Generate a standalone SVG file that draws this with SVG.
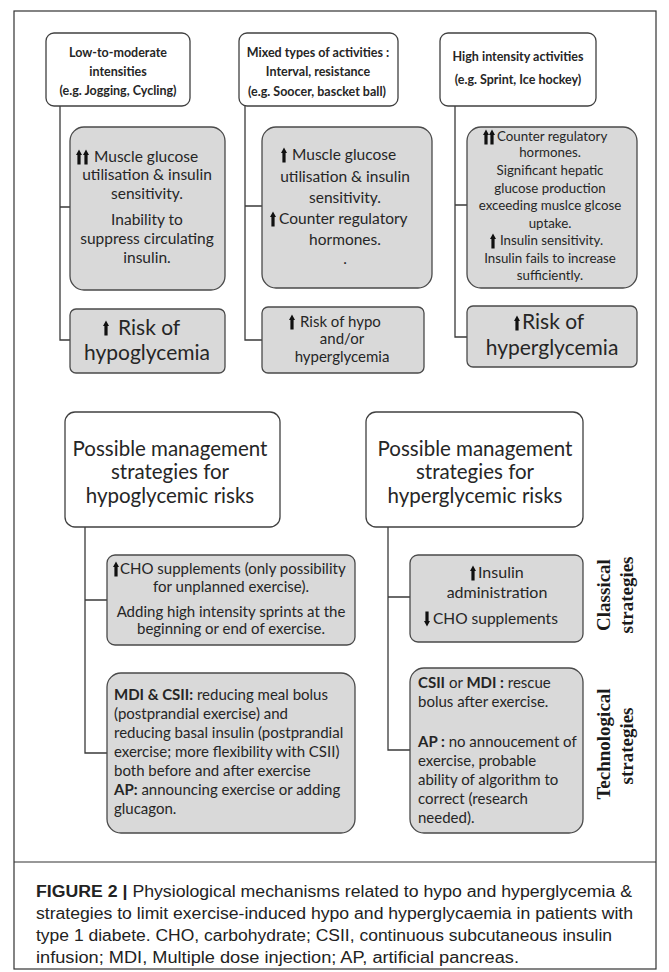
<svg xmlns="http://www.w3.org/2000/svg" width="669" height="972" viewBox="0 0 669 972">
<style>
.frame{fill:#fff;stroke:#333;stroke-width:1.2}
.hdr{fill:#fff;stroke:#404040;stroke-width:1.3}
.gry{fill:#d9d9d9;stroke:#4a4a4a;stroke-width:1.3}
.con{fill:none;stroke:#3a3a3a;stroke-width:1.3}
.t{font-family:Lato,"Open Sans",sans-serif;fill:#262626}
.hb{font-size:12.5px;font-weight:bold;text-anchor:middle}
.g14{font-size:15px}
.g15{font-size:15.5px}
.c{text-anchor:middle}
.big{font-size:21px}
.h20{font-size:20.5px;text-anchor:middle}
.rot{font-family:"Liberation Serif",serif;font-weight:bold;font-size:19px;fill:#1a1a1a;text-anchor:middle}
.cap{font-family:"Liberation Sans",Arial,sans-serif;font-size:16px;fill:#222}
.arr{fill:#111}
</style>
<defs>
<path id="ua" d="M0,-7.5 L3,-2 L1.6,-2 L1.6,7.5 L-1.6,7.5 L-1.6,-2 L-3,-2 Z"/>
</defs>
<rect class="frame" x="14" y="11" width="642" height="958"/>
<line x1="14" y1="862" x2="656" y2="862" stroke="#333" stroke-width="1.2"/>

<g id="connectors">
<path class="con" d="M60,106 V340 H70 M60,207 H70"/>
<path class="con" d="M245,106 V340 H262 M245,206 H262"/>
<path class="con" d="M455,106 V337 H467 M455,205 H467"/>
<path class="con" d="M85,527 V753 H107 M85,600 H107"/>
<path class="con" d="M388,527 V750 H410 M388,597 H410"/>
</g>

<g id="hdr1">
<rect class="hdr" x="46" y="33" width="144" height="73" rx="8"/>
<text class="t hb" x="118" y="57">Low-to-moderate</text>
<text class="t hb" x="118" y="76">intensities</text>
<text class="t hb" x="118" y="95">(e.g. Jogging, Cycling)</text>
</g>
<g id="hdr2">
<rect class="hdr" x="239" y="33" width="159" height="73" rx="8"/>
<text class="t hb" x="318" y="57">Mixed types of activities  :</text>
<text class="t hb" x="318" y="76">Interval, resistance</text>
<text class="t hb" x="317" y="96">(e.g. Soocer, bascket  ball)</text>
</g>
<g id="hdr3">
<rect class="hdr" x="440" y="33" width="156" height="73" rx="8"/>
<text class="t hb" x="518" y="61">High intensity activities</text>
<text class="t hb" x="518" y="84">(e.g. Sprint, Ice hockey)</text>
</g>

<g id="mech1">
<rect class="gry" x="70" y="127" width="155" height="163" rx="14"/>
<use href="#ua" class="arr" x="79" y="157"/><use href="#ua" class="arr" x="86" y="157"/>
<text class="t g15" x="94" y="162">Muscle glucose</text>
<text class="t g15 c" x="147" y="180">utilisation &amp;  insulin</text>
<text class="t g15 c" x="147" y="199">sensitivity.</text>
<text class="t g15 c" x="147" y="225">Inability to</text>
<text class="t g15 c" x="147" y="244">suppress circulating</text>
<text class="t g15 c" x="147" y="263">insulin.</text>
</g>
<g id="risk1">
<rect class="gry" x="70" y="309" width="155" height="64" rx="6"/>
<use href="#ua" class="arr" x="106" y="328"/>
<text class="t big" x="118" y="335">Risk of</text>
<text class="t big c" x="147" y="360">hypoglycemia</text>
</g>

<g id="mech2">
<rect class="gry" x="262" y="127" width="170" height="161" rx="14"/>
<use href="#ua" class="arr" x="284" y="155"/>
<text class="t g15" x="292" y="160">Muscle glucose</text>
<text class="t g15 c" x="345" y="182">utilisation &amp;  insulin</text>
<text class="t g15 c" x="345" y="203">sensitivity.</text>
<use href="#ua" class="arr" x="273" y="219"/>
<text class="t g15" x="279" y="224">Counter regulatory</text>
<text class="t g15 c" x="345" y="245">hormones.</text>
<text class="t g15 c" x="345" y="264">.</text>
</g>
<g id="risk2">
<rect class="gry" x="262" y="307" width="162" height="66" rx="6"/>
<use href="#ua" class="arr" x="292" y="322"/>
<text class="t" font-size="15" x="300" y="327">Risk of hypo</text>
<text class="t c" font-size="15" x="342" y="344">and/or</text>
<text class="t c" font-size="15" x="342" y="362">hyperglycemia</text>
</g>

<g id="mech3">
<rect class="gry" x="467" y="127" width="170" height="161" rx="14"/>
<use href="#ua" class="arr" x="486" y="137"/><use href="#ua" class="arr" x="492" y="137"/>
<text class="t" font-size="13.3" x="497" y="141">Counter regulatory</text>
<text class="t c" font-size="13.3" x="550" y="157">hormones.</text>
<text class="t c" font-size="13.3" x="550" y="175">Significant hepatic</text>
<text class="t c" font-size="13.3" x="550" y="193">glucose production</text>
<text class="t c" font-size="13.3" x="550" y="210">exceeding muslce glcose</text>
<text class="t c" font-size="13.3" x="550" y="228">uptake.</text>
<use href="#ua" class="arr" x="493" y="241"/>
<text class="t" font-size="13.3" x="500" y="245">Insulin sensitivity.</text>
<text class="t c" font-size="13.3" x="550" y="263">Insulin fails to increase</text>
<text class="t c" font-size="13.3" x="550" y="280">sufficiently.</text>
</g>
<g id="risk3">
<rect class="gry" x="467" y="306" width="170" height="61" rx="6"/>
<use href="#ua" class="arr" x="517" y="323"/>
<text class="t big" x="522" y="329">Risk of</text>
<text class="t big c" x="552" y="355">hyperglycemia</text>
</g>

<g id="hypoStrat">
<rect class="hdr" x="65" y="412" width="215" height="115" rx="10"/>
<text class="t h20" x="170" y="456">Possible management</text>
<text class="t h20" x="170" y="479">strategies for</text>
<text class="t h20" x="170" y="503">hypoglycemic risks</text>
</g>
<g id="hyperStrat">
<rect class="hdr" x="366" y="412" width="217" height="115" rx="10"/>
<text class="t h20" x="475" y="456">Possible management</text>
<text class="t h20" x="475" y="479">strategies for</text>
<text class="t h20" x="475" y="503">hyperglycemic risks</text>
</g>

<g id="hypoA">
<rect class="gry" x="107" y="555" width="248" height="90" rx="8"/>
<use href="#ua" class="arr" x="116" y="569"/>
<text class="t g14" x="120" y="574">CHO supplements (only possibility</text>
<text class="t g14 c" x="231" y="592">for unplanned exercise).</text>
<text class="t g14 c" x="231" y="617">Adding high intensity sprints at the</text>
<text class="t g14 c" x="231" y="634">beginning or end of exercise.</text>
</g>
<g id="hypoB">
<rect class="gry" x="107" y="673" width="248" height="160" rx="14"/>
<text class="t g14" x="114" y="700"><tspan font-weight="bold">MDI &amp; CSII:</tspan> reducing meal bolus</text>
<text class="t g14" x="114" y="719">(postprandial exercise) and</text>
<text class="t g14" x="114" y="738">reducing basal insulin  (postprandial</text>
<text class="t g14" x="114" y="757">exercise; more flexibility with CSII)</text>
<text class="t g14" x="114" y="776">both before and after exercise</text>
<text class="t g14" x="114" y="795"><tspan font-weight="bold">AP:</tspan> announcing exercise or adding</text>
<text class="t g14" x="114" y="814">glucagon.</text>
</g>

<g id="hyperA">
<rect class="gry" x="410" y="555" width="173" height="87" rx="8"/>
<use href="#ua" class="arr" x="473" y="573"/>
<text class="t" font-size="16" x="478" y="578">Insulin</text>
<text class="t c" font-size="16" x="497" y="598">administration</text>
<use href="#ua" class="arr" transform="rotate(180 427 619)" x="427" y="619"/>
<text class="t" font-size="15.5" x="433" y="624">CHO supplements</text>
</g>
<g id="hyperB">
<rect class="gry" x="410" y="668" width="173" height="165" rx="14"/>
<text class="t g14" x="418" y="688"><tspan font-weight="bold">CSII</tspan> or <tspan font-weight="bold">MDI :</tspan> rescue</text>
<text class="t g14" x="418" y="707">bolus after exercise.</text>
<text class="t g14" x="418" y="747"><tspan font-weight="bold">AP :</tspan> no annoucement of</text>
<text class="t g14" x="418" y="766">exercise, probable</text>
<text class="t g14" x="418" y="785">ability of algorithm to</text>
<text class="t g14" x="418" y="804">correct (research</text>
<text class="t g14" x="418" y="823">needed).</text>
</g>

<g id="labelClassical">
<text class="rot" transform="translate(610,595) rotate(-90)">Classical</text>
<text class="rot" transform="translate(633,595) rotate(-90)">strategies</text>
</g>
<g id="labelTech">
<text class="rot" transform="translate(610,744) rotate(-90)">Technological</text>
<text class="rot" transform="translate(633,746) rotate(-90)">strategies</text>
</g>

<g id="caption">
<text class="cap" x="36" y="897" textLength="596" lengthAdjust="spacingAndGlyphs"><tspan font-weight="bold">FIGURE 2 |</tspan> Physiological mechanisms related to hypo and hyperglycemia &amp;</text>
<text class="cap" x="36" y="919" textLength="597" lengthAdjust="spacingAndGlyphs">strategies to limit exercise-induced hypo and hyperglycaemia in patients with</text>
<text class="cap" x="36" y="941" textLength="576" lengthAdjust="spacingAndGlyphs">type 1 diabete. CHO, carbohydrate; CSII, continuous subcutaneous insulin</text>
<text class="cap" x="36" y="963" textLength="483" lengthAdjust="spacingAndGlyphs">infusion; MDI, Multiple dose injection; AP, artificial pancreas.</text>
</g>
</svg>
